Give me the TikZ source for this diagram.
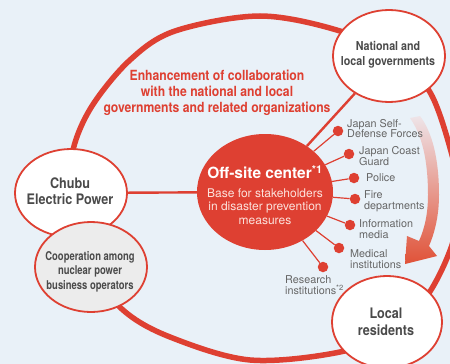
\documentclass[tikz,border=0pt]{standalone}
\usepackage{fontspec}
\setmainfont{TeX Gyre Heros}
\newfontfamily\cndA[FakeStretch=0.87]{TeX Gyre Heros}
\newfontfamily\cndB[FakeStretch=0.78]{TeX Gyre Heros}
\usetikzlibrary{shapes.geometric}
\definecolor{bg}{RGB}{233,241,248}
\definecolor{myred}{RGB}{222,64,50}
\definecolor{dtext}{RGB}{74,74,74}
\definecolor{lgray}{RGB}{102,102,102}
\definecolor{coopgray}{RGB}{236,236,236}
\definecolor{pinkw}{RGB}{252,226,220}
\definecolor{arrtop}{RGB}{238,228,232}
\definecolor{arrmid}{RGB}{231,140,118}
\definecolor{arrbot}{RGB}{224,82,56}
\begin{document}
\begin{tikzpicture}[x=1pt,y=-1pt,
  ring/.style={draw=myred, line width=5.5pt},
  bubble/.style={ellipse, draw=myred, line width=1.8pt, fill=white, inner sep=0pt},
  btext/.style={text=dtext, align=center, inner sep=0pt},
  dot/.style={circle, fill=myred, minimum size=10.5pt, inner sep=0pt},
  spoke/.style={draw=myred, line width=1.2pt},
  link/.style={draw=myred, line width=2.4pt},
  lab/.style={text=lgray, align=left, anchor=west, inner sep=0pt, font=\fontsize{10.8}{10.9}\selectfont}]
\useasboundingbox (0,0) rectangle (450,364);
\clip (0,0) rectangle (450,364);
\fill[bg] (0,0) rectangle (450,364);
% big ring
\draw[ring] plot[smooth cycle, tension=0.55] coordinates {
 (260,16) (340,31) (398,58) (431,94) (452,155) (460,200) (452,245) (429,293)
 (395,330) (340,352) (250,360) (170,337) (123,310) (88,265) (70,200) (73,150)
 (92,106) (130,60) (175,31)};
% gradient arrow
\shade[top color=arrtop, middle color=arrmid, bottom color=arrbot]
 (410,118) .. controls (422,135) and (428,160) .. (428,195)
 .. controls (428,215) and (424,230) .. (419,241) -- (407,236) -- (405,264)
 -- (437,256) -- (429,246) .. controls (435,232) and (439,215) .. (439,195)
 .. controls (439,158) and (432,132) .. (420,116) -- cycle;
% nodes
\node[ellipse, fill=myred, minimum width=136pt, minimum height=116pt, inner sep=0pt] (osc) at (265,192) {};
\node[bubble, minimum width=112pt, minimum height=92pt] (nat) at (389,56) {};
\node[bubble, minimum width=112pt, minimum height=88pt] (chubu) at (71,193) {};
\node[bubble, fill=coopgray, minimum width=112pt, minimum height=90pt] (coop) at (91,267) {};
\node[bubble, minimum width=110pt, minimum height=92pt] (local) at (387,322) {};
% links
\draw[link] (osc) -- (nat);
\draw[link] (chubu) -- (osc);
% dots and spokes
\node[dot] (d1) at (338,131) {};
\node[dot] (d2) at (349,154) {};
\node[dot] (d3) at (354,178) {};
\node[dot] (d4) at (355,199) {};
\node[dot] (d5) at (350,225) {};
\node[dot] (d6) at (339,248) {};
\node[dot] (d7) at (323,267) {};
\foreach \d in {d1,d2,d3,d4,d5,d6,d7} \draw[spoke] (osc) -- (\d);
% labels
\node[lab] (l1) at (347,128.5) {Japan Self-\\Defense Forces};
\node[lab] (l2) at (359,156) {Japan Coast\\Guard};
\node[lab] (l3) at (366,178) {Police};
\node[lab] (l4) at (364,201.5) {Fire\\departments};
\node[lab] (l5) at (359,229.5) {Information\\media};
\node[lab] (l6) at (350,259) {Medical\\institutions};
\node[lab] (l7) at (285,285.5) {Research\\institutions\textsuperscript{*2}};
% texts
\node[btext, text=myred, font=\cndA\bfseries\fontsize{14}{16}\selectfont] (ttl) at (217,93)
 {Enhancement of collaboration\\with the national and local\\governments and related organizations};
\node[btext, font=\cndA\bfseries\fontsize{12.3}{15}\selectfont] (natT) at (388,55) {National and\\local governments};
\node[btext, font=\cndA\bfseries\fontsize{14.5}{16}\selectfont] (chubuT) at (70,191) {Chubu\\Electric Power};
\node[btext, font=\cndB\bfseries\fontsize{12.1}{14.5}\selectfont] (coopT) at (90,271.5) {Cooperation among\\nuclear power\\business operators};
\node[btext, font=\cndA\bfseries\fontsize{14.5}{16.5}\selectfont] (localT) at (386,322) {Local\\residents};
\node[btext, text=white, font=\bfseries\fontsize{15.5}{17}\selectfont] (oscT) at (265,172) {Off-site center\textsuperscript{*1}};
\node[btext, text=pinkw, font=\fontsize{12}{13.5}\selectfont] (oscS) at (265,206.5) {Base for stakeholders\\in disaster prevention\\measures};
\end{tikzpicture}
\end{document}
